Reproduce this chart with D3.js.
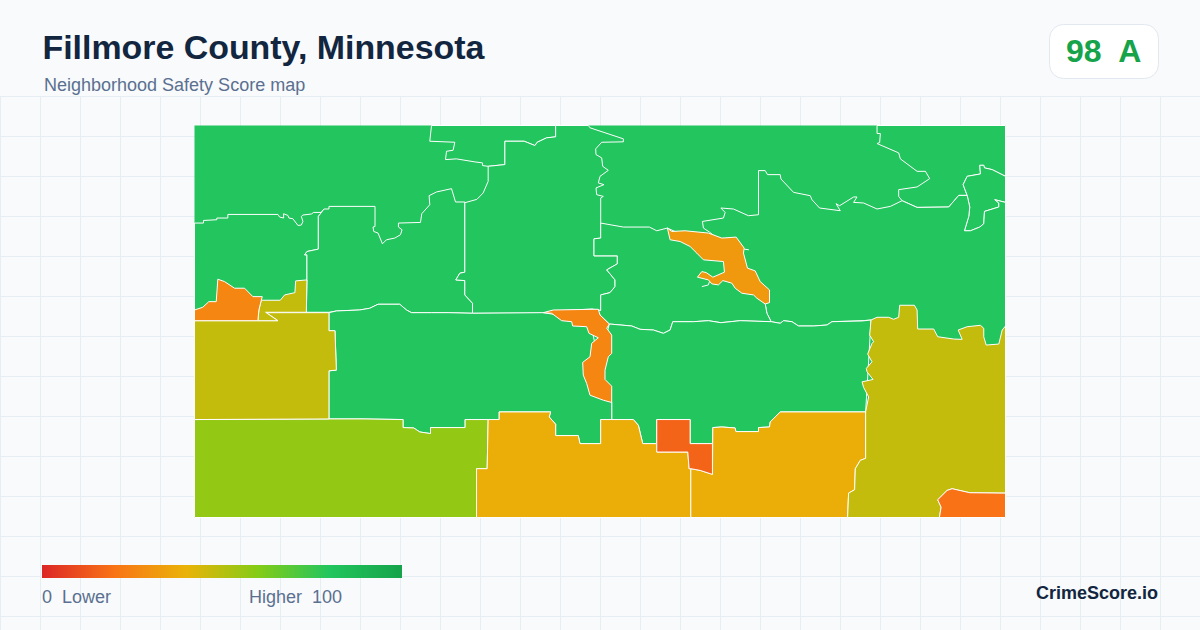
<!DOCTYPE html>
<html>
<head>
<meta charset="utf-8">
<title>Fillmore County, Minnesota</title>
<script src="https://cdn.jsdelivr.net/npm/d3@7"></script>
<style>
  html, body { margin: 0; padding: 0; background: #f8fafc; }
  svg { display: block; }
  text { font-family: "Liberation Sans", Arial, sans-serif; white-space: pre; }
</style>
</head>
<body>
<div id="map"></div>
<script>
// Zone outlines, in map units (x 0-810, y 0-391, y downwards)
const county = [[0,0],[810,0],[810,391],[0,391]];
const northNotch = [[236.7,0],[235,15.7],[260,16.7],[258.3,24.7],[251.7,25.7],[250.7,34],[261.7,33.3],[280,36.3],[287.7,37.3],[287.7,40],[293.3,40.7],[310,39],[310,15.7],[329.3,15.7],[340,20],[342.3,16.7],[351.7,12.3],[360.7,11.3],[360.7,0]];
const westMid = [[0,97.3],[9,97.3],[9,94.7],[22.3,94],[22.3,92.3],[33.3,92.3],[33.3,88.7],[83.3,88.7],[85,91.3],[89,92.3],[89,88],[93.3,89.7],[94.3,92.3],[98.3,93],[103.3,99.7],[106.7,99.3],[108.3,95.7],[106.7,90.7],[108.3,89.3],[116.7,88.3],[119,86.7],[126.7,86.7],[129.3,83.3],[123.7,90.7],[123.7,123.3],[112.3,125.7],[110,129],[112.3,129],[112.3,190],[0,190]];
const centerNorth = [[123.7,90.7],[129.3,83.3],[134.3,83.3],[134.3,80.7],[180.3,80.7],[180.3,100.7],[178.3,101.3],[179,105.7],[183.3,107.3],[187.7,118],[191.7,114],[200,112.3],[205.7,109],[207.3,104],[203.7,101.3],[203.7,97.3],[225.7,96.7],[227,88],[235,79],[234.3,70],[241.7,66.3],[256.7,63],[260.7,76.3],[270,76.3],[270,146.3],[265,147.3],[261,154],[270,154.7],[270,169],[277.7,177.3],[277.7,187.3],[253.3,186.7],[236.7,186.7],[216.7,186.7],[211.7,184],[205,178.3],[183.3,178.3],[175,182.3],[165,184],[141.7,185],[134.3,186.3],[111.7,186.3],[112.3,154],[112.3,129],[110,129],[112.3,125.7],[123.7,123.3]];
const centerRiver = [[360.7,0],[393.3,0],[395,2.3],[428.3,13.3],[428.3,16.3],[406.7,16.7],[400.7,23.3],[401,29],[406.7,32.3],[407.7,40.7],[413.3,44.7],[405,50.7],[403.3,57.3],[409,59],[401,62.3],[401.7,69],[408.3,70.7],[405.7,72.3],[405.7,97.3],[405.7,112.3],[399,113],[399,130],[422.3,130],[422.3,138],[411.7,144],[420,154],[420,160.7],[415,166.7],[405.7,169],[405.7,184.5],[397,183],[362,185],[352,187],[277.7,187.3],[277.7,177.3],[270,169],[270,154.7],[261,154],[265,147.3],[270,146.3],[270,77],[282,73.7],[288.3,67.3],[293.3,55.7],[293.3,40.7],[310,39],[310,15.7],[329.3,15.7],[340,20],[342.3,16.7],[351.7,12.3],[360.7,11.3]];
const northEastTop = [[681.7,0],[681.7,8],[685,8],[684.3,17],[681.7,18],[703.3,27.3],[705,33.3],[721.7,45.7],[730,45.7],[734.3,53],[721.7,61.3],[703.3,64],[703.3,70.7],[706.7,75],[721.7,81.7],[753.3,81.3],[763.3,69.7],[771.7,69.7],[767.7,59],[771.7,50.7],[785,48.3],[784.3,39.7],[788.3,39.7],[789,42.3],[796.7,44],[810,50.7],[810,0]];
const eastPocket = [[771.7,69.7],[767.7,59],[771.7,50.7],[785,48.3],[784.3,39.7],[788.3,39.7],[789,42.3],[796.7,44],[810,50.7],[810,76.7],[799.3,74],[803.3,77.3],[803.3,81.3],[789,85.7],[788.3,98],[784.3,101.3],[775,105],[769,105],[773.3,90.7],[774.3,81.3]];
const eastLarge = [[514.3,106.3],[508.3,102.3],[507.3,95.7],[528.3,92.3],[530,86.7],[525.7,82.3],[538.3,83.3],[553.3,90],[563.3,89],[563.3,45],[570,45],[572.3,49],[585,49],[585.7,53.3],[598.3,66.7],[615,70],[616.7,74],[624.3,82.3],[645,85],[640.7,78],[644.3,80],[658.3,71.3],[661.7,71.3],[658.3,76.7],[668.3,77.3],[681.7,83.3],[695,80.7],[706.7,75],[721.7,81.7],[753.3,81.3],[763.3,69.7],[771.7,69.7],[774.3,81.3],[773.3,90.7],[769,105],[775,105],[784.3,101.3],[788.3,98],[789,85.7],[803.3,81.3],[803.3,77.3],[799.3,74],[810,76.7],[810,230],[690,230],[675.7,194],[666.7,194.7],[636.7,195.7],[631.7,199],[618.3,200],[603.3,200],[596.7,195.7],[588.3,194.7],[585,197.3],[576,195.7],[571.7,187.3],[570,178],[561.7,167.3],[541.7,137.3],[528.3,117.3]];
const riverWest = [[405.7,97.3],[428.3,101.3],[454.3,101.3],[461.7,105],[472.3,102.3],[511.7,120.3],[541.7,137.3],[570,178],[571.7,187.3],[576,195.7],[545,194.7],[525.7,196.7],[513.3,194.7],[498.3,195.7],[477.7,195.7],[475,204],[468.3,207.3],[458.3,204],[445,203.3],[436.7,200],[414.3,198],[405,189],[402.3,184],[405.7,184.5],[405.7,169],[415,166.7],[420,160.7],[420,154],[411.7,144],[422.3,138],[422.3,130],[399,130],[399,113],[405.7,112.3]];
const southEastMid = [[414.3,198],[436.7,200],[445,203.3],[458.3,204],[468.3,207.3],[475,204],[477.7,195.7],[498.3,195.7],[513.3,194.7],[525.7,196.7],[545,194.7],[576,195.7],[585,197.3],[588.3,194.7],[596.7,195.7],[603.3,200],[618.3,200],[631.7,199],[636.7,195.7],[666.7,195],[675.7,194],[670.3,285.7],[585,285.7],[575,295.7],[574.3,300.7],[563.3,301.3],[563.3,305.3],[540.7,305.3],[540,301.7],[526.7,300.7],[517.7,301.3],[517.3,317.3],[495,317.3],[495,293.3],[461.7,293.3],[461.7,317.3],[447.7,317.3],[443.3,299],[438.3,293.3],[416.7,293.3],[416.7,276.3],[401.7,249]];
const southCenter = [[134.3,186.7],[141.7,185],[165,184],[175,182.3],[183.3,178.3],[205,178.3],[211.7,184],[216.7,186.7],[236.7,186.7],[253.3,186.7],[277.7,187.3],[348.3,186.7],[395,194],[403.3,234],[405.7,267.3],[416.7,276.3],[416.7,293.3],[405.7,293.3],[405.7,317.3],[385,317.3],[383.3,309.3],[360.7,309.3],[360.7,298],[354.3,290.7],[355.7,285.7],[304.3,285.7],[304.3,293.3],[293.3,293.3],[270.3,293.3],[270.3,301.3],[235.7,301.3],[235.7,307.3],[225,305.7],[219,301.7],[208.3,301.3],[208.3,293.3],[168.3,292.7],[134.3,292.7],[134.3,244.7],[141.7,244],[140.3,204.7],[134.3,204.7]];
const southWest = [[0,293.3],[134.3,292.7],[168.3,292.7],[208.3,293.3],[208.3,301.3],[219,301.7],[225,305.7],[235.7,307.3],[235.7,301.3],[270.3,301.3],[270.3,293.3],[293.3,293.3],[292.3,342.3],[281.7,342.3],[281.7,391],[0,391]];
const westBlock = [[0,194.7],[63.3,194.7],[83.3,194.7],[71.7,186.7],[134.3,186.7],[134.3,204.7],[140.3,204.7],[141.7,244],[134.3,244.7],[134.3,292.7],[0,293.3]];
const westSpur = [[66.7,174.3],[85.7,174.3],[90,169],[100.3,166.7],[101,155],[112.3,154],[111.7,186.3],[71,186.3],[83.3,194.7],[63.3,194.7],[64.3,184]];
const westHot = [[0,184],[8.3,181.3],[14.3,175.7],[21.7,175.7],[23.3,153.3],[30,155.7],[40,162.3],[50,162.3],[58.3,170.7],[67.7,170.7],[66.7,174.3],[64.3,184],[63.3,194.7],[0,194.7]];
const southAmberWest = [[281.7,391],[281.7,342.3],[292.3,342.3],[293.3,293.3],[304.3,293.3],[304.3,285.7],[355.7,285.7],[354.3,290.7],[360.7,298],[360.7,309.3],[383.3,309.3],[385,317.3],[405.7,317.3],[405.7,293.3],[438.3,293.3],[443.3,299],[447.7,317.3],[461.7,317.3],[461.7,325.7],[492.7,325.7],[494,342.3],[495.7,342.3],[495.7,391]];
const southAmberEast = [[517.7,301.3],[526.7,300.7],[540,301.7],[540.7,305.3],[563.3,305.3],[563.3,301.3],[574.3,300.7],[575,295.7],[585,285.7],[670.3,285.7],[670.3,332],[665,334],[660,342.3],[659.3,363.3],[653.3,366.7],[652.3,391],[495.7,391],[495.7,342.3],[505,344],[517.3,348]];
const southHot = [[461.7,293.3],[495,293.3],[495,317.3],[517.3,317.3],[517.3,348],[505,344],[495.7,342.3],[494,342.3],[492.7,325.7],[461.7,325.7]];
const eastBlock = [[675.7,194],[681.7,191.3],[693.3,191.3],[698.3,193.3],[703.3,191.3],[704.3,179.3],[719,179.3],[721.7,184],[722.3,203],[738.3,203],[742.3,210.7],[758.3,213],[766.7,213.3],[762.7,204],[771.7,200.7],[785,199.3],[788.3,202.3],[788.3,210.7],[790.7,219],[803.3,218],[806.7,204],[810,200],[810,366.7],[774.3,366.3],[756.7,362.3],[751.7,364],[742.3,373.3],[745.7,380.7],[744,391],[652.3,391],[653.3,366.7],[659.3,363.3],[660,342.3],[665,334],[670.3,332],[670.3,285.7],[673.3,270.7],[668.3,261.3],[666.7,255.7],[677.7,253.3],[671.7,245.7],[671,242.3],[676.7,235.7],[672.3,228],[676.7,217.3],[678.3,215.7],[674.3,209]];
const cornerHot = [[810,366.7],[774.3,366.3],[756.7,362.3],[751.7,364],[742.3,373.3],[745.7,380.7],[744,391],[810,391]];
const riverSouth = [[348.3,186.7],[358.3,184],[400,183.3],[403.3,183.3],[405,189],[414.3,198],[411.7,202.3],[416.7,209],[416.7,227.3],[413.3,230.7],[410,244],[410,253.3],[416.7,260],[416.7,276.3],[408.3,274],[395,269],[391.7,257.3],[388.3,249],[387.7,236.3],[395,230.7],[396.7,217.3],[403.3,211.7],[394,207.3],[391.7,200.7],[377.7,200],[376.7,195.7],[366.7,194.7],[356.7,187.3]];
const riverEast = [[472.3,102.3],[476.7,105.7],[490,105],[513.3,107.3],[526.7,112.3],[541,111.3],[549,122.3],[548.3,127.3],[552.3,142.3],[560,145],[565,155.7],[574.3,164],[574.3,176.7],[570,178],[561.7,172.3],[558.3,169],[546.7,167.3],[540,162.3],[536.7,157.3],[527.7,154.7],[523.3,159],[516.7,158],[513.3,154],[502.3,151.3],[506.7,145.7],[511,146.7],[517.7,151.3],[529.3,146.3],[528.3,135.7],[508.3,134],[501.7,127.3],[495,120.7],[485,115.7],[475,114]];
const spurA = [[549,123.3],[553.7,124]];
const spurB = [[506.7,160.7],[513.3,159],[514.3,155.7]];

// drawing order matters, later zones sit on top
const zones = [county, northNotch, westMid, centerNorth, centerRiver, northEastTop, eastPocket, eastLarge, riverWest, southEastMid, southCenter, southWest, westBlock, westSpur, westHot, southAmberWest, southAmberEast, southHot, eastBlock, cornerHot, riverSouth, riverEast];
const scores = [80, 80, 80, 80, 80, 80, 80, 80, 80, 80, 80, 57, 47.5, 47.5, 26, 38.5, 38.5, 16, 47.5, 20, 26, 32];
const spurs = [spurA, spurB];

const stopValues = [0, 20, 40, 60, 80, 100];
const stopColors = ["#dc2626", "#f97316", "#eab308", "#84cc16", "#22c55e", "#16a34a"];

const title = "Fillmore County, Minnesota";
const subtitle = "Neighborhood Safety Score map";
const overallScore = "98  A";
const legendLow = "0  Lower";
const legendHigh = "Higher  100";
const brand = "CrimeScore.io";

const width = 1200, height = 630;

const svg = d3.select("#map")
  .append("svg")
  .attr("width", width)
  .attr("height", height);

svg.append("rect")
  .attr("width", width)
  .attr("height", height)
  .attr("fill", "#f8fafc");

// Background grid, only under the header band
const gridX = d3.range(0, width + 1, 40);
const gridY = d3.range(96, height, 40);

svg.append("g").selectAll("line")
  .data(gridX)
  .enter()
  .append("line")
  .attr("x1", d => d + 0.5)
  .attr("x2", d => d + 0.5)
  .attr("y1", 96)
  .attr("y2", height)
  .attr("stroke", "#e7eef3");

svg.append("g").selectAll("line")
  .data(gridY)
  .enter()
  .append("line")
  .attr("x1", 0)
  .attr("x2", width)
  .attr("y1", d => d + 0.5)
  .attr("y2", d => d + 0.5)
  .attr("stroke", "#e7eef3");

// Map, half a pixel wider so the white edge stroke falls outside the fill
const xScale = d3.scaleLinear().domain([0, 810]).range([194.5, 1005.5]);
const yScale = d3.scaleLinear().domain([0, 391]).range([125.5, 517.5]);
const colorScale = d3.scaleLinear().domain(stopValues).range(stopColors);

const ring = d3.line()
  .x(d => xScale(d[0]))
  .y(d => yScale(d[1]));

svg.append("g").selectAll("path")
  .data(zones)
  .enter()
  .append("path")
  .attr("d", d => ring(d) + "Z")
  .attr("fill", (d, i) => colorScale(scores[i]))
  .attr("stroke", (d, i) => i === 0 ? "none" : "#ffffff")
  .attr("stroke-width", 1)
  .attr("stroke-linejoin", "round");

svg.append("g").selectAll("path")
  .data(spurs)
  .enter()
  .append("path")
  .attr("d", ring)
  .attr("fill", "none")
  .attr("stroke", "#ffffff")
  .attr("stroke-width", 1);

// Header
svg.append("text")
  .attr("x", 42.5)
  .attr("y", 59)
  .style("font-size", "33.9px")
  .style("font-weight", "bold")
  .attr("fill", "#12263f")
  .text(title);

svg.append("text")
  .attr("x", 44)
  .attr("y", 91)
  .style("font-size", "18px")
  .attr("fill", "#5b7090")
  .text(subtitle);

// Score badge
svg.append("rect")
  .attr("x", 1049.5)
  .attr("y", 24.5)
  .attr("width", 109)
  .attr("height", 54)
  .attr("rx", 14)
  .attr("fill", "#ffffff")
  .attr("stroke", "#e2e8f0");

svg.append("text")
  .attr("x", 1066)
  .attr("y", 62)
  .style("font-size", "32px")
  .style("font-weight", "bold")
  .attr("fill", "#16a34a")
  .text(overallScore);

// Legend
const legendScale = d3.scaleLinear().domain([0, 100]).range([42, 402]);

const gradient = svg.append("defs")
  .append("linearGradient")
  .attr("id", "scoreRamp");

gradient.selectAll("stop")
  .data(stopValues)
  .enter()
  .append("stop")
  .attr("offset", d => d + "%")
  .attr("stop-color", (d, i) => stopColors[i]);

svg.append("rect")
  .attr("x", legendScale(0))
  .attr("y", 565)
  .attr("width", legendScale(100) - legendScale(0))
  .attr("height", 13)
  .attr("fill", "url(#scoreRamp)");

svg.append("text")
  .attr("x", 42)
  .attr("y", 603)
  .style("font-size", "18px")
  .attr("fill", "#5b7090")
  .text(legendLow);

svg.append("text")
  .attr("x", 249)
  .attr("y", 603)
  .style("font-size", "18px")
  .attr("fill", "#5b7090")
  .text(legendHigh);

svg.append("text")
  .attr("x", 1158)
  .attr("y", 599)
  .attr("text-anchor", "end")
  .style("font-size", "18px")
  .style("font-weight", "bold")
  .attr("fill", "#12263f")
  .text(brand);
</script>
</body>
</html>
